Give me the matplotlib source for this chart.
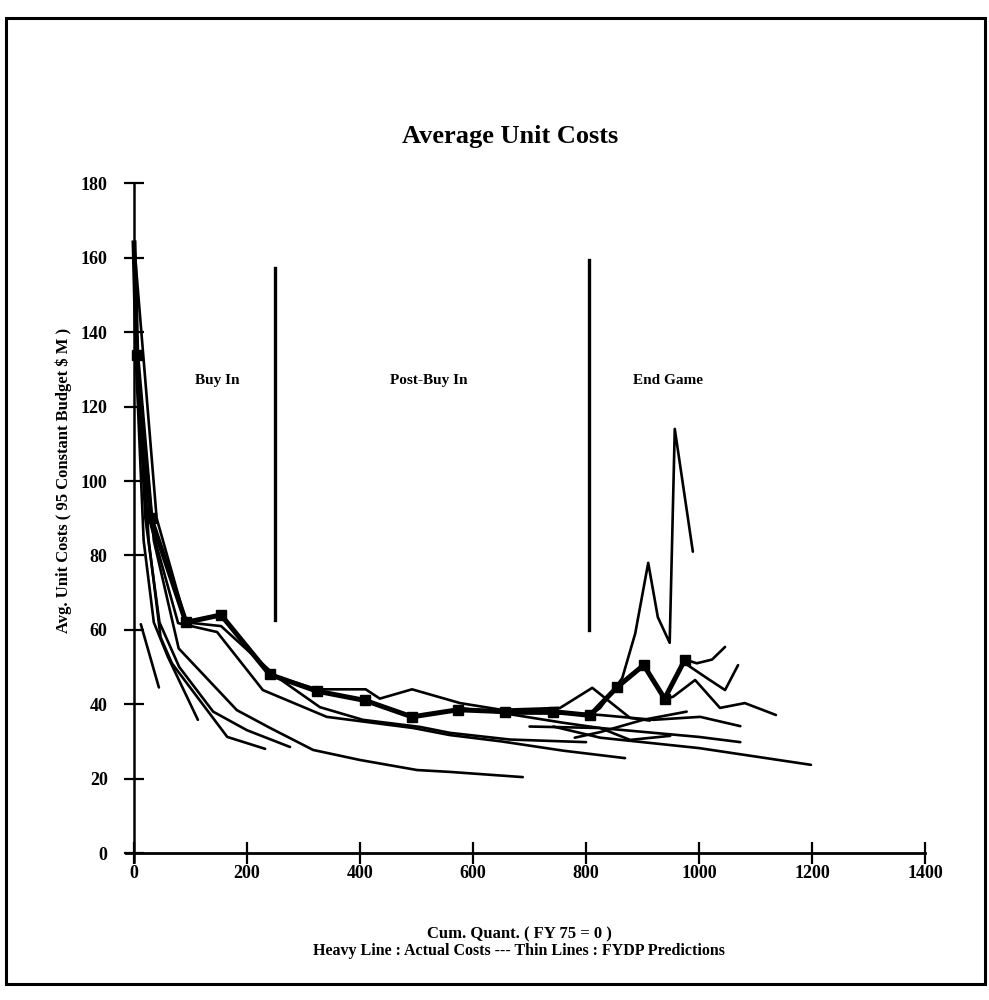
import matplotlib
matplotlib.use("Agg")
import matplotlib.pyplot as plt
from matplotlib.patches import Rectangle

# ---------------- data ----------------
actual_x = [0, 5, 30, 92, 154, 240, 324, 409, 492, 573, 657, 742, 807, 855, 902, 939, 975]
actual_y = [164, 134, 90, 62, 64, 48, 43.5, 41, 36.6, 38.5, 38, 38, 37, 44.6, 50.5, 41.5, 52]

fydp_a_x = [12, 44]
fydp_a_y = [61.5, 44.5]
fydp_b_x = [3, 17, 35, 60, 113]
fydp_b_y = [134, 84, 62, 52.7, 35.8]
fydp_c_x = [5, 26, 47, 67, 165, 232]
fydp_c_y = [134, 84, 58, 51, 31.2, 28]
fydp_d_x = [5, 35, 79, 182, 241, 317, 400, 501, 559, 688]
fydp_d_y = [134, 84, 55, 38.4, 33.6, 27.7, 25, 22.3, 21.8, 20.4]
fydp_e_x = [5, 20, 45, 80, 140, 200, 276]
fydp_e_y = [134, 90, 62, 50, 38, 33, 28.5]
fydp_f_x = [5, 30, 78, 147, 228, 341, 494, 559, 650, 760, 869]
fydp_f_y = [134, 88, 61.8, 59.4, 43.8, 36.6, 33.6, 31.7, 30, 27.5, 25.5]
fydp_g_x = [0, 40, 92, 154, 253, 329, 405, 506, 559, 665, 800]
fydp_g_y = [164, 90, 62, 61, 47.3, 39.2, 35.8, 33.9, 32.3, 30.5, 29.8]
fydp_h_x = [240, 324, 410, 435, 492, 577, 650, 754, 811, 878, 913]
fydp_h_y = [48, 44, 44, 41.5, 44, 40.3, 38.5, 39, 44.4, 36.3, 35.6]
fydp_i_x = [573, 665, 780, 825, 919, 1002, 1073]
fydp_i_y = [39, 37.5, 37.5, 37.1, 35.8, 36.6, 34.1]
fydp_j_x = [657, 760, 825, 878, 949]
fydp_j_y = [37.5, 35, 33.6, 30.4, 31.5]
fydp_k_x = [700, 825, 1000, 1073]
fydp_k_y = [34, 33.6, 31.2, 29.8]
fydp_l_x = [742, 825, 1000, 1198]
fydp_l_y = [34, 31, 28.2, 23.7]
fydp_m_x = [780, 825, 901, 978]
fydp_m_y = [31, 32.5, 35.8, 38]
fydp_n_x = [939, 954, 993, 1037, 1081, 1136]
fydp_n_y = [41.4, 42, 46.5, 39, 40.3, 37.1]
fydp_o_x = [975, 996, 1023, 1046]
fydp_o_y = [52, 51, 52, 55.4]
fydp_p_x = [975, 1014, 1046, 1069]
fydp_p_y = [51, 47, 43.8, 50.5]
fydp_q_x = [807, 825, 864, 887, 910, 927, 948, 957, 989]
fydp_q_y = [37, 39, 47, 59, 78, 63.4, 56.5, 114, 81]

phase_bound_x = [250, 806]
phase_bound_ylo = [62.6, 60]
phase_bound_yhi = [157.3, 159.4]
phase_labels = ["Buy In", "Post-Buy In", "End Game"]
phase_label_x = [147, 522, 945]
phase_label_y = [127, 127, 127]

x_ticks = [0, 200, 400, 600, 800, 1000, 1200, 1400]
y_ticks = [0, 20, 40, 60, 80, 100, 120, 140, 160, 180]

# ---------------- figure ----------------
SERIF = ["Liberation Serif", "DejaVu Serif"]
fig = plt.figure(figsize=(9.89, 10.0), dpi=100)
ax = fig.add_axes([0.1241, 0.1284, 0.8227, 0.7068])
ax.set_xlim(-20, 1420)
ax.set_ylim(-5, 185)

thin = [
    (fydp_a_x, fydp_a_y), (fydp_b_x, fydp_b_y), (fydp_c_x, fydp_c_y),
    (fydp_d_x, fydp_d_y), (fydp_e_x, fydp_e_y), (fydp_f_x, fydp_f_y),
    (fydp_g_x, fydp_g_y), (fydp_h_x, fydp_h_y), (fydp_i_x, fydp_i_y),
    (fydp_j_x, fydp_j_y), (fydp_k_x, fydp_k_y), (fydp_l_x, fydp_l_y),
    (fydp_m_x, fydp_m_y), (fydp_n_x, fydp_n_y), (fydp_o_x, fydp_o_y),
    (fydp_p_x, fydp_p_y), (fydp_q_x, fydp_q_y),
]
for xs, ys in thin:
    ax.plot(xs, ys, color="black", lw=1.9, solid_capstyle="round",
            solid_joinstyle="round", zorder=2)

ax.plot(actual_x, actual_y, color="black", lw=3.6, marker="s", markersize=7,
        markevery=list(range(1, len(actual_x))), zorder=3)

for bx, lo, hi in zip(phase_bound_x, phase_bound_ylo, phase_bound_yhi):
    ax.plot([bx, bx], [lo, hi], color="black", lw=2.4, zorder=2)

for lab, lx, ly in zip(phase_labels, phase_label_x, phase_label_y):
    ax.text(lx, ly, lab, ha="center", va="center", fontsize=11,
            fontweight="bold", family=SERIF)

# axes styling
for s in ["top", "right"]:
    ax.spines[s].set_visible(False)
ax.spines["left"].set_position(("data", 0))
ax.spines["bottom"].set_position(("data", 0))
ax.spines["left"].set_bounds(-2.5, 180)
ax.spines["bottom"].set_bounds(-15, 1400)
ax.spines["left"].set_linewidth(1.8)
ax.spines["bottom"].set_linewidth(2.0)

ax.set_xticks(x_ticks)
ax.set_yticks(y_ticks)
ax.set_xticklabels([str(v) for v in x_ticks])
ax.set_yticklabels([str(v) for v in y_ticks])
ax.tick_params(axis="x", direction="inout", length=16, width=1.6, pad=1,
               labelsize=13)
ax.tick_params(axis="y", direction="inout", length=14, width=1.6, pad=12,
               labelsize=13)
for t in ax.get_xticklabels() + ax.get_yticklabels():
    t.set_fontweight("bold")
    t.set_family(SERIF)

# texts
fig.text(0.516, 0.864, "Average Unit Costs", ha="center", va="center",
         fontsize=19, fontweight="bold", family=SERIF)
fig.text(64 / 989, 1 - 480 / 1000, "Avg. Unit Costs ( 95 Constant Budget $ M )",
         rotation=90, ha="center", va="center", fontsize=12,
         fontweight="bold", family=SERIF)
fig.text(0.525, 1 - 934 / 1000, "Cum. Quant. ( FY 75 = 0 )", ha="center",
         va="center", fontsize=12, fontweight="bold", family=SERIF)
fig.text(0.525, 1 - 951 / 1000,
         "Heavy Line : Actual Costs --- Thin Lines : FYDP Predictions",
         ha="center", va="center", fontsize=11.5, fontweight="bold", family=SERIF)

# outer frame
fig.patches.append(Rectangle((6 / 989, 1 - 984 / 1000), (985 - 6) / 989,
                             (984 - 18) / 1000, transform=fig.transFigure,
                             fill=False, edgecolor="black", lw=2.2))

fig.savefig("out.png", dpi=100)
